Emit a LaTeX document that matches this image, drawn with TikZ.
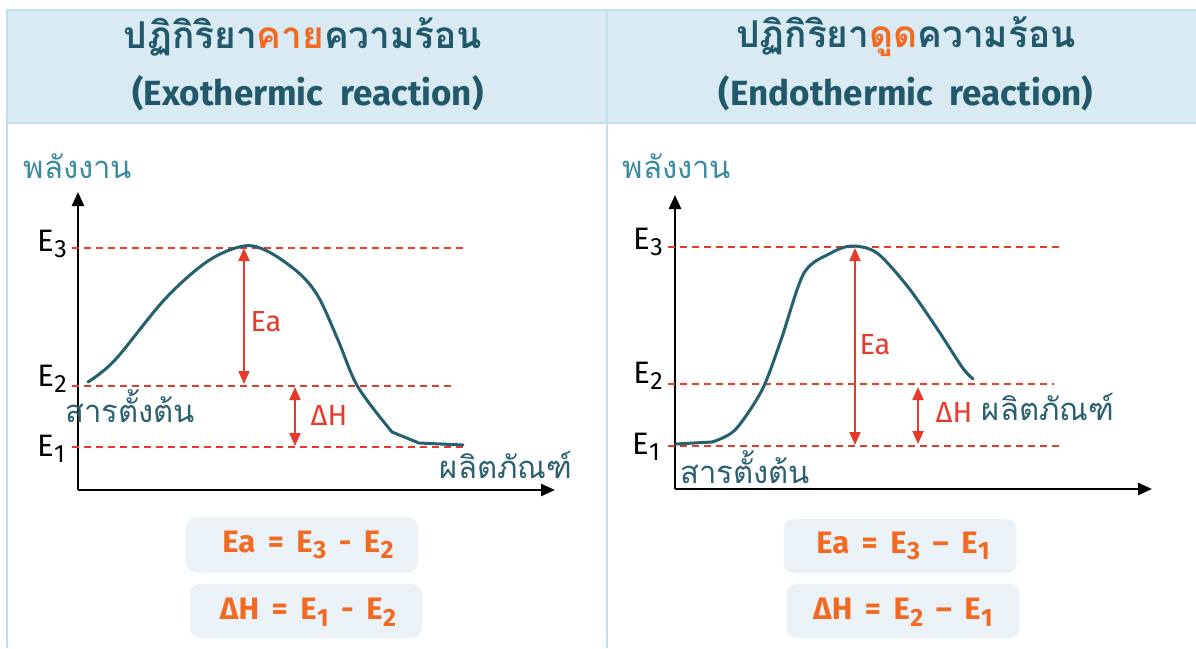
\documentclass[tikz,border=0pt]{standalone}
\usepackage{fontspec}
\setmainfont{Fira Sans}
\newfontfamily\thai[Script=Thai]{Loma}
\usetikzlibrary{arrows.meta}
\definecolor{hdrbg}{HTML}{D9EAF3}
\definecolor{hdrline}{HTML}{C3DFEB}
\definecolor{ttl}{HTML}{21596A}
\definecolor{org}{HTML}{F26A21}
\definecolor{crv}{HTML}{24606E}
\definecolor{lbl}{HTML}{3A8BA0}
\definecolor{dteal}{HTML}{2A6070}
\definecolor{rd}{HTML}{E8392A}
\definecolor{boxbg}{HTML}{EAF2F8}
\newcommand{\Esub}[2]{E\kern0.5pt\raisebox{-0.4ex}{\fontsize{#2}{#2}\selectfont #1}}
\tikzset{
  titlethai/.style={text=ttl, font=\thai\bfseries\fontsize{37}{42}\selectfont, inner sep=0pt},
  titlelat/.style={text=ttl, font=\bfseries\fontsize{35}{40}\selectfont, inner sep=0pt},
  axisline/.style={line width=2.4pt, -{Triangle[length=14pt,width=12pt]}},
  levline/.style={rd, line width=1.4pt, dash pattern=on 7pt off 5pt},
  ecurve/.style={crv, line width=3pt, line cap=round, line join=round},
  dblarrow/.style={rd, line width=2pt, {Triangle[length=13pt,width=11pt]}-{Triangle[length=13pt,width=11pt]}},
  elab/.style={font=\fontsize{31}{34}\selectfont, inner sep=0pt, text=black},
  redlab/.style={text=rd, font=\fontsize{29}{32}\selectfont, inner sep=0pt},
  thailab/.style={text=dteal, font=\thai\fontsize{31}{34}\selectfont, inner sep=0pt},
  energylab/.style={text=lbl, font=\thai\fontsize{31}{34}\selectfont, inner sep=0pt},
  fbox/.style={fill=boxbg, rounded corners=10pt},
  ftext/.style={text=org, font=\bfseries\fontsize{31}{34}\selectfont, inner sep=0pt}
}
\begin{document}
\begin{tikzpicture}[x=1pt,y=-1pt]
\useasboundingbox (0,0) rectangle (1196,648);
\fill[white] (0,0) rectangle (1196,648);
% frame
\fill[hdrbg] (7,10) rectangle (1196,123);
\draw[hdrline, line width=1.2pt] (1196,10) -- (7,10) -- (7,648);
\draw[hdrline, line width=1.2pt] (7,123) -- (1196,123);
\draw[hdrline, line width=1.2pt] (607,10) -- (607,648);
% titles
\node[titlethai] (t1) at (303,37) {ปฏิกิริยา\textcolor{org}{คาย}ความร้อน};
\node[titlelat] (t2) at (308,93) {(Exothermic\ \ reaction)};
\node[titlethai] (t3) at (906,37) {ปฏิกิริยา\textcolor{org}{ดูด}ความร้อน};
\node[titlelat] (t4) at (906,93) {(Endothermic\ \ reaction)};

% ---------- LEFT ----------
\node[energylab] (le) at (78,166) {พลังงาน};
\coordinate (lo) at (78,490);
\coordinate (ly) at (78,192);
\coordinate (lx) at (555,490);
\draw[axisline] (lo) -- (ly);
\draw[axisline] (lo) -- (lx);
\node[elab] (lE3) at (52,244) {\Esub{3}{25}};
\node[elab] (lE2) at (52,379) {\Esub{2}{25}};
\node[elab] (lE1) at (51,449) {\Esub{1}{25}};
\coordinate (l3a) at (72,248); \coordinate (l3b) at (465,248);
\coordinate (l2a) at (72,386); \coordinate (l2b) at (456,386);
\coordinate (l1a) at (72,447); \coordinate (l1b) at (465,447);
\draw[levline] (l3a) -- (l3b);
\draw[levline] (l2a) -- (l2b);
\draw[levline] (l1a) -- (l1b);
\draw[ecurve] plot[smooth, tension=0.55] coordinates {(88,382) (115,360) (165,299) (208,261) (244,246) (269,252) (300,274) (319,298) (338,340) (358,387) (392,432)};
\draw[ecurve] (392,432) -- (419,443) -- (463,445);
\coordinate (lEaT) at (244,248); \coordinate (lEaB) at (244,384);
\draw[dblarrow] (lEaT) -- (lEaB);
\node[redlab] (lEa) at (266,322) {Ea};
\coordinate (lHT) at (295,387); \coordinate (lHB) at (295,446);
\draw[dblarrow] (lHT) -- (lHB);
\node[redlab] (lH) at (329,416) {ΔH};
\node[thailab] (lr) at (130,406) {สารตั้งต้น};
\node[thailab] (lp) at (506,465) {ผลิตภัณฑ์};
\node[fbox, minimum width=232pt, minimum height=55pt] (lb1) at (302,545) {};
\node[fbox, minimum width=232pt, minimum height=54pt] (lb2) at (306,611) {};
\node[ftext] (lf1) at (308,545) {Ea\ \,=\ \,\Esub{3}{25}\ \,-\ \,\Esub{2}{25}};
\node[ftext] (lf2) at (308,612) {ΔH\ \,=\ \,\Esub{1}{25}\ \,-\ \,\Esub{2}{25}};

% ---------- RIGHT ----------
\node[energylab] (re) at (677,166) {พลังงาน};
\coordinate (ro) at (675,489);
\coordinate (ry) at (675,195);
\coordinate (rx) at (1152,489);
\draw[axisline] (ro) -- (ry);
\draw[axisline] (ro) -- (rx);
\node[elab] (rE3) at (648,242) {\Esub{3}{25}};
\node[elab] (rE2) at (648,376) {\Esub{2}{25}};
\node[elab] (rE1) at (646,447) {\Esub{1}{25}};
\coordinate (r3a) at (668,247); \coordinate (r3b) at (1062,247);
\coordinate (r2a) at (668,384); \coordinate (r2b) at (1054,384);
\coordinate (r1a) at (668,446); \coordinate (r1b) at (1063,446);
\draw[levline] (r3a) -- (r3b);
\draw[levline] (r2a) -- (r2b);
\draw[levline] (r1a) -- (r1b);
\draw[ecurve] (676,444) -- (712,442);
\draw[ecurve] plot[smooth, tension=0.5] coordinates {(712,442) (735,430) (762,390) (781,340) (804,273) (831,253) (852,246) (877,253) (908,287) (938,330) (962,367) (973,379)};
\coordinate (rEaT) at (855,248); \coordinate (rEaB) at (855,445);
\draw[dblarrow] (rEaT) -- (rEaB);
\node[redlab] (rEa) at (875,345) {Ea};
\coordinate (rHT) at (918,387); \coordinate (rHB) at (918,444);
\draw[dblarrow] (rHT) -- (rHB);
\node[redlab] (rH) at (954,413) {ΔH};
\node[thailab] (rp) at (1048,407) {ผลิตภัณฑ์};
\node[thailab] (rr) at (745,467) {สารตั้งต้น};
\node[fbox, minimum width=233pt, minimum height=54pt] (rb1) at (900,546) {};
\node[fbox, minimum width=233pt, minimum height=54pt] (rb2) at (903,611) {};
\node[ftext] (rf1) at (903,546) {Ea\ \,=\ \,\Esub{3}{25}\ \,–\ \,\Esub{1}{25}};
\node[ftext] (rf2) at (903,612) {ΔH\ \,=\ \,\Esub{2}{25}\ \,–\ \,\Esub{1}{25}};
\end{tikzpicture}
\end{document}
